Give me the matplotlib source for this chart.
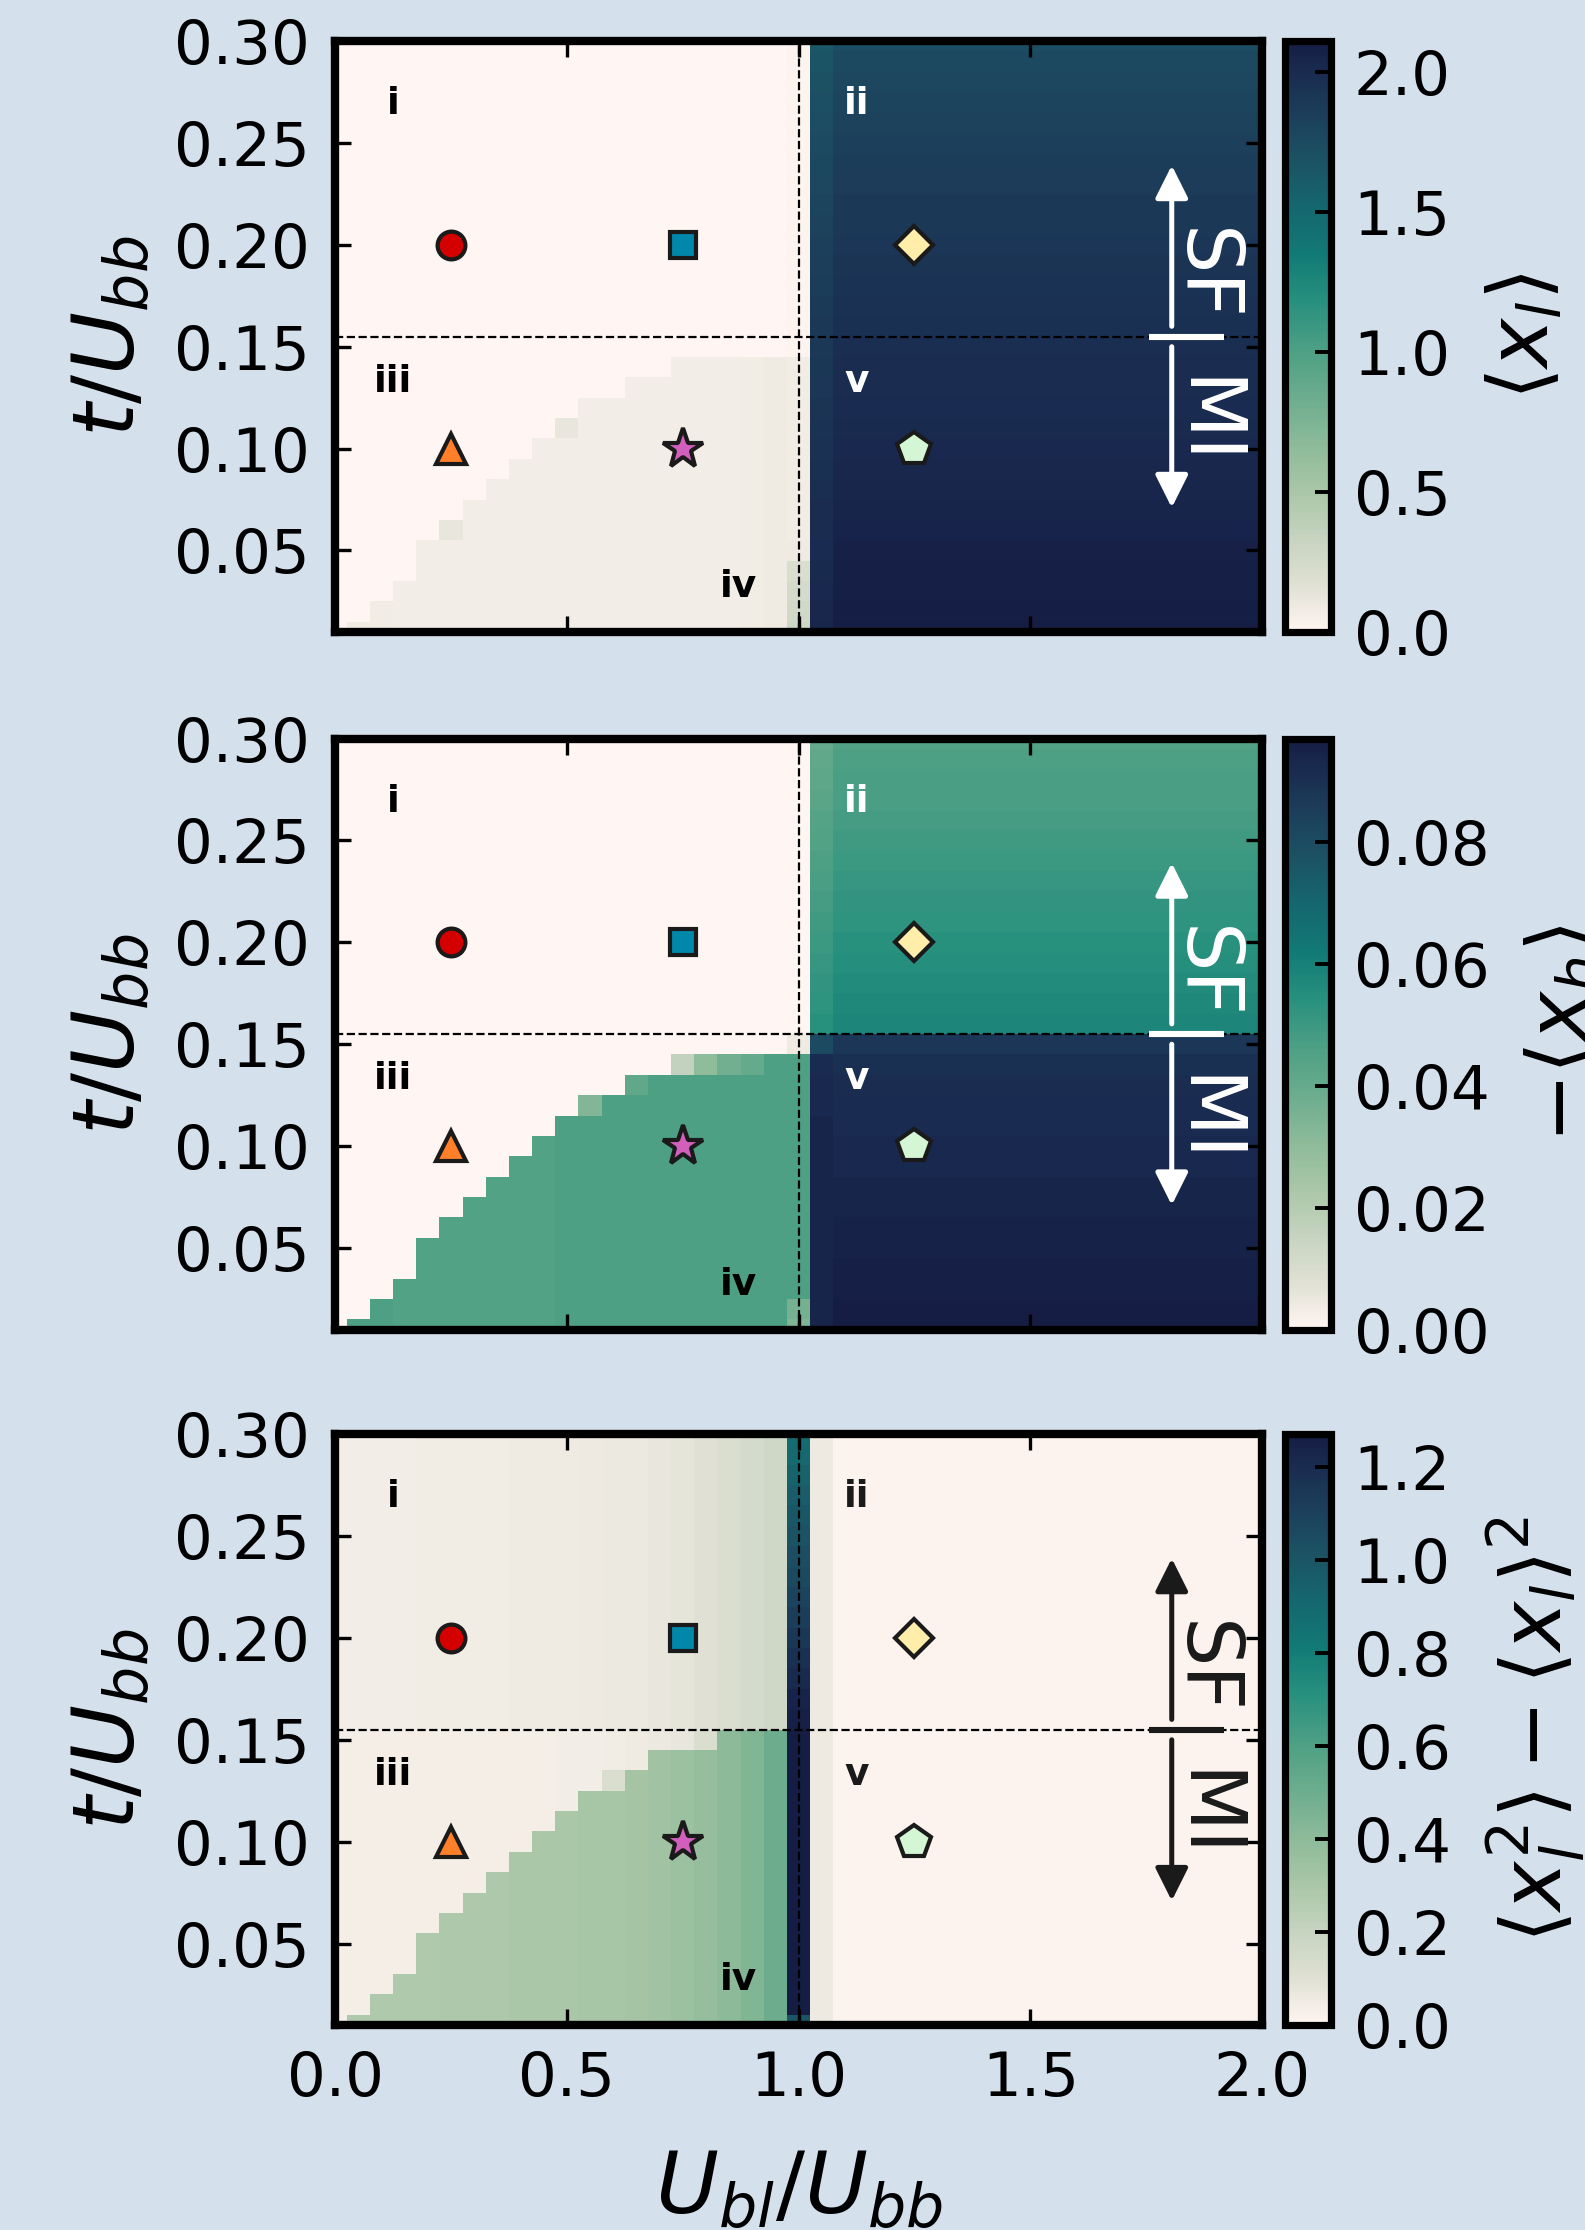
import numpy as np
import matplotlib
matplotlib.use('Agg')
import matplotlib.pyplot as plt
from matplotlib.colors import LinearSegmentedColormap

# grid of the phase diagram
u_vals = np.round(np.arange(0.0, 2.001, 0.05), 2)   # U_bl/U_bb, 41 columns
t_vals = np.round(np.arange(0.01, 0.301, 0.01), 2)  # t/U_bb, 30 rows

# number of rows (from t=0.01) inside the wedge (region iv), columns u=0.00..0.95
wedge_rows = [0, 1, 2, 3, 5, 6, 7, 8, 9, 10, 11, 12, 12, 13, 13, 14, 14, 14, 14, 14]
var_wedge_rows = [0, 1, 2, 3, 5, 6, 7, 8, 9, 10, 11, 12, 13, 13, 14, 14, 15, 15, 15, 15]

# <x_l>
xl_upper = [0.0] * 20
xl_lower = [0.0] * 20
xl_wedge = [0.07, 0.08, 0.08, 0.07, 0.07, 0.07, 0.07, 0.07, 0.07, 0.07,
            0.07, 0.07, 0.07, 0.07, 0.07, 0.07, 0.07, 0.07, 0.08, 0.09]
xl_c100 = [0.30, 0.27, 0.24, 0.20, 0.09, 0.08, 0.08, 0.08, 0.08, 0.08,
           0.08, 0.08, 0.08, 0.08, 0.01, 0.01, 0.01, 0.01, 0.01, 0.01,
           0.01, 0.01, 0.01, 0.01, 0.01, 0.01, 0.01, 0.01, 0.01, 0.01]
xl_c105 = [2.04, 2.03, 2.02, 2.01, 2.00, 1.99, 1.98, 1.97, 1.96, 1.95,
           1.94, 1.93, 1.92, 1.91, 1.90, 1.89, 1.88, 1.86, 1.85, 1.84,
           1.82, 1.80, 1.78, 1.77, 1.75, 1.73, 1.71, 1.69, 1.67, 1.64]
xl_right = [2.11, 2.10, 2.09, 2.08, 2.07, 2.06, 2.05, 2.04, 2.03, 2.02,
            2.01, 2.00, 1.99, 1.98, 1.97, 1.96, 1.95, 1.94, 1.93, 1.92,
            1.90, 1.89, 1.87, 1.86, 1.84, 1.82, 1.80, 1.78, 1.76, 1.73]
xl_edges = {(5, 6): 0.12, (10, 11): 0.12}

# -<x_h>
xh_upper = [0.0] * 20
xh_lower = [0.0] * 20
xh_wedge = [0.046, 0.046, 0.046, 0.045, 0.045, 0.045, 0.045, 0.045, 0.045, 0.045,
            0.046, 0.046, 0.046, 0.046, 0.046, 0.046, 0.046, 0.046, 0.046, 0.046]
xh_c100 = [0.034, 0.036, 0.046, 0.046, 0.046, 0.046, 0.046, 0.046, 0.046, 0.046,
           0.046, 0.046, 0.046, 0.046, 0.004, 0.0, 0.0, 0.0, 0.0, 0.0,
           0.0, 0.0, 0.0, 0.0, 0.0, 0.0, 0.0, 0.0, 0.0, 0.0]
xh_c105 = [0.094, 0.094, 0.094, 0.094, 0.094, 0.094, 0.094, 0.094, 0.094, 0.094,
           0.094, 0.093, 0.093, 0.092, 0.080, 0.054, 0.053, 0.052, 0.051, 0.050,
           0.049, 0.048, 0.047, 0.046, 0.045, 0.044, 0.043, 0.042, 0.041, 0.040]
xh_right = [0.097, 0.097, 0.096, 0.096, 0.095, 0.095, 0.094, 0.094, 0.093, 0.093,
            0.092, 0.092, 0.091, 0.090, 0.088, 0.058, 0.057, 0.056, 0.055, 0.054,
            0.053, 0.052, 0.051, 0.050, 0.049, 0.048, 0.047, 0.047, 0.046, 0.045]
xh_edges = {(11, 12): 0.033, (13, 13): 0.041, (15, 14): 0.016,
            (16, 14): 0.030, (17, 14): 0.037, (18, 14): 0.040}

# <x_l^2> - <x_l>^2
var_upper = [0.04, 0.04, 0.04, 0.04, 0.045, 0.045, 0.045, 0.045, 0.05, 0.05,
             0.05, 0.055, 0.06, 0.06, 0.07, 0.08, 0.10, 0.12, 0.14, 0.165]
var_lower = [0.035, 0.035, 0.035, 0.035, 0.035, 0.035, 0.035, 0.035, 0.035, 0.035,
             0.04, 0.04, 0.045, 0.05, 0.06, 0.07, 0.08, 0.10, 0.12, 0.14]
var_wedge = [0.28, 0.28, 0.28, 0.28, 0.28, 0.29, 0.29, 0.29, 0.30, 0.30,
             0.30, 0.31, 0.31, 0.32, 0.33, 0.35, 0.37, 0.40, 0.44, 0.50]
var_c100 = [1.00, 1.27, 1.27, 1.27, 1.27, 1.27, 1.27, 1.27, 1.27, 1.27,
            1.27, 1.27, 1.27, 1.27, 1.27, 1.26, 1.24, 1.21, 1.18, 1.15,
            1.12, 1.09, 1.06, 1.04, 1.01, 0.99, 0.96, 0.93, 0.90, 0.88]
var_c105 = 0.055
var_right = 0.013
var_edges = {(12, 13): 0.12, (16, 15): 0.12}

# markers
marker_u = [0.25, 0.75, 1.25, 0.25, 0.75, 1.25]
marker_t = [0.20, 0.20, 0.20, 0.10, 0.10, 0.10]
marker_shapes = ['o', 's', 'D', '^', '*', 'p']
marker_colors = ['#d40000', '#0088aa', '#ffeeaa', '#ff7f2a', '#d35fbc', '#d5f6d5']
marker_sizes = [10, 9.5, 9.5, 10.5, 15, 12.5]

region_labels = [('i', 0.125, 0.264), ('ii', 1.125, 0.264), ('iii', 0.125, 0.128),
                 ('v', 1.125, 0.128), ('iv', 0.87, 0.027)]

t_transition = 0.155

tempo = LinearSegmentedColormap.from_list('tempo_like', [
    (0.00, '#fff5f2'), (0.08, '#dfe0d3'), (0.16, '#c5d3bf'), (0.24, '#a8c6a6'),
    (0.32, '#8bba99'), (0.40, '#6aac8d'), (0.48, '#4c9f84'), (0.56, '#27907e'),
    (0.64, '#127a76'), (0.72, '#15666e'), (0.80, '#1c5264'), (0.88, '#1c3e5a'),
    (0.96, '#19284e'), (1.00, '#151d44')])


def build_grid(upper, lower, wedge, rows, c100, c105, right, edges):
    grid = np.zeros((len(t_vals), len(u_vals)))
    for j in range(20):
        for i in range(len(t_vals)):
            if i < rows[j]:
                grid[i, j] = wedge[j]
            elif t_vals[i] > t_transition:
                grid[i, j] = upper[j]
            else:
                grid[i, j] = lower[j]
    grid[:, 20] = c100
    grid[:, 21] = c105
    grid[:, 22:] = np.reshape(right, (-1, 1))
    for (j, i), v in edges.items():
        grid[i - 1, j] = v
    return grid


panels = [
    (build_grid(xl_upper, xl_lower, xl_wedge, wedge_rows, xl_c100, xl_c105, xl_right, xl_edges),
     r'$\langle x_l \rangle$', [0.0, 0.5, 1.0, 1.5, 2.0], '{:.1f}', 'white'),
    (build_grid(xh_upper, xh_lower, xh_wedge, wedge_rows, xh_c100, xh_c105, xh_right, xh_edges),
     r'$-\langle x_h \rangle$', [0.0, 0.02, 0.04, 0.06, 0.08], '{:.2f}', 'white'),
    (build_grid(var_upper, var_lower, var_wedge, var_wedge_rows, var_c100, var_c105, var_right, var_edges),
     r'$\langle x_l^2 \rangle - \langle x_l \rangle^2$', [0.0, 0.2, 0.4, 0.6, 0.8, 1.0, 1.2], '{:.1f}', '#1a1a1a'),
]

plt.rcParams.update({
    'font.size': 22,
    'axes.linewidth': 3,
    'xtick.direction': 'in',
    'ytick.direction': 'in',
    'xtick.top': True,
    'ytick.right': True,
    'xtick.major.size': 5.6,
    'ytick.major.size': 5.6,
    'xtick.major.width': 1.2,
    'ytick.major.width': 1.2,
    'xtick.major.pad': 9,
    'ytick.major.pad': 9,
})

bg = '#d4e0eb'
fig = plt.figure(figsize=(7.925, 11.15), dpi=200, facecolor=bg)

ax_left, ax_w = 0.2114, 0.5849
cb_left, cb_w = 0.8110, 0.0290
ax_h = 0.265
bottoms = [0.7166, 0.4038, 0.0919]

for k, (grid, cb_label, cb_ticks, cb_fmt, ann_color) in enumerate(panels):
    ax = fig.add_axes([ax_left, bottoms[k], ax_w, ax_h])
    mesh = ax.pcolormesh(u_vals, t_vals, grid, shading='nearest', cmap=tempo,
                         vmin=0, vmax=grid.max(), rasterized=True)
    ax.set_xlim(0, 2)
    ax.set_ylim(0.01, 0.30)
    ax.set_xticks([0.0, 0.5, 1.0, 1.5, 2.0])
    ax.set_yticks([0.05, 0.10, 0.15, 0.20, 0.25, 0.30])
    ax.set_yticklabels(['0.05', '0.10', '0.15', '0.20', '0.25', '0.30'])
    if k < 2:
        ax.set_xticklabels([])
    else:
        ax.set_xticklabels(['0.0', '0.5', '1.0', '1.5', '2.0'])
        ax.set_xlabel(r'$U_{bl}/U_{bb}$', fontsize=31, labelpad=14)
    ax.set_ylabel(r'$t/U_{bb}$', fontsize=31, labelpad=8)

    ax.axvline(1.0, color='k', ls='--', lw=0.8, zorder=3)
    ax.axhline(t_transition, color='k', ls='--', lw=0.8, zorder=3)

    for u, t, m, c, s in zip(marker_u, marker_t, marker_shapes, marker_colors, marker_sizes):
        ax.plot(u, t, marker=m, color=c, markersize=s, markeredgecolor='#1a1a1a',
                markeredgewidth=1.5, ls='none', zorder=5)

    for text, u, t in region_labels:
        col = ann_color if text in ('ii', 'v') else 'black'
        ax.text(u, t, text, ha='center', va='baseline', fontsize=13.5,
                fontweight='bold', color=col, zorder=6)

    # SF / MI arrows
    arrow_kw = dict(arrowstyle='-|>', color=ann_color, lw=1.8, mutation_scale=25,
                    shrinkA=0, shrinkB=0)
    ax.annotate('', xy=(1.805, 0.239), xytext=(1.805, 0.160), arrowprops=arrow_kw, zorder=6)
    ax.annotate('', xy=(1.805, 0.071), xytext=(1.805, 0.150), arrowprops=arrow_kw, zorder=6)
    ax.plot([1.755, 1.918], [t_transition, t_transition], color=ann_color, lw=2.2,
            solid_capstyle='butt', zorder=6)
    ax.text(1.875, 0.185, 'SF', rotation=270, ha='center', va='center', fontsize=28,
            color=ann_color, zorder=6)
    ax.text(1.875, 0.113, 'MI', rotation=270, ha='center', va='center', fontsize=28,
            color=ann_color, zorder=6)

    cax = fig.add_axes([cb_left, bottoms[k], cb_w, ax_h])
    cbar = fig.colorbar(mesh, cax=cax)
    cbar.set_ticks(cb_ticks)
    cbar.set_ticklabels([cb_fmt.format(v) for v in cb_ticks])
    cbar.outline.set_linewidth(2.6)
    cax.tick_params(direction='in', length=5.8, width=1.4, pad=8)
    cbar.set_label(cb_label, fontsize=30, labelpad=12)

fig.savefig('out.png', dpi=200, facecolor=fig.get_facecolor())
plt.close(fig)
